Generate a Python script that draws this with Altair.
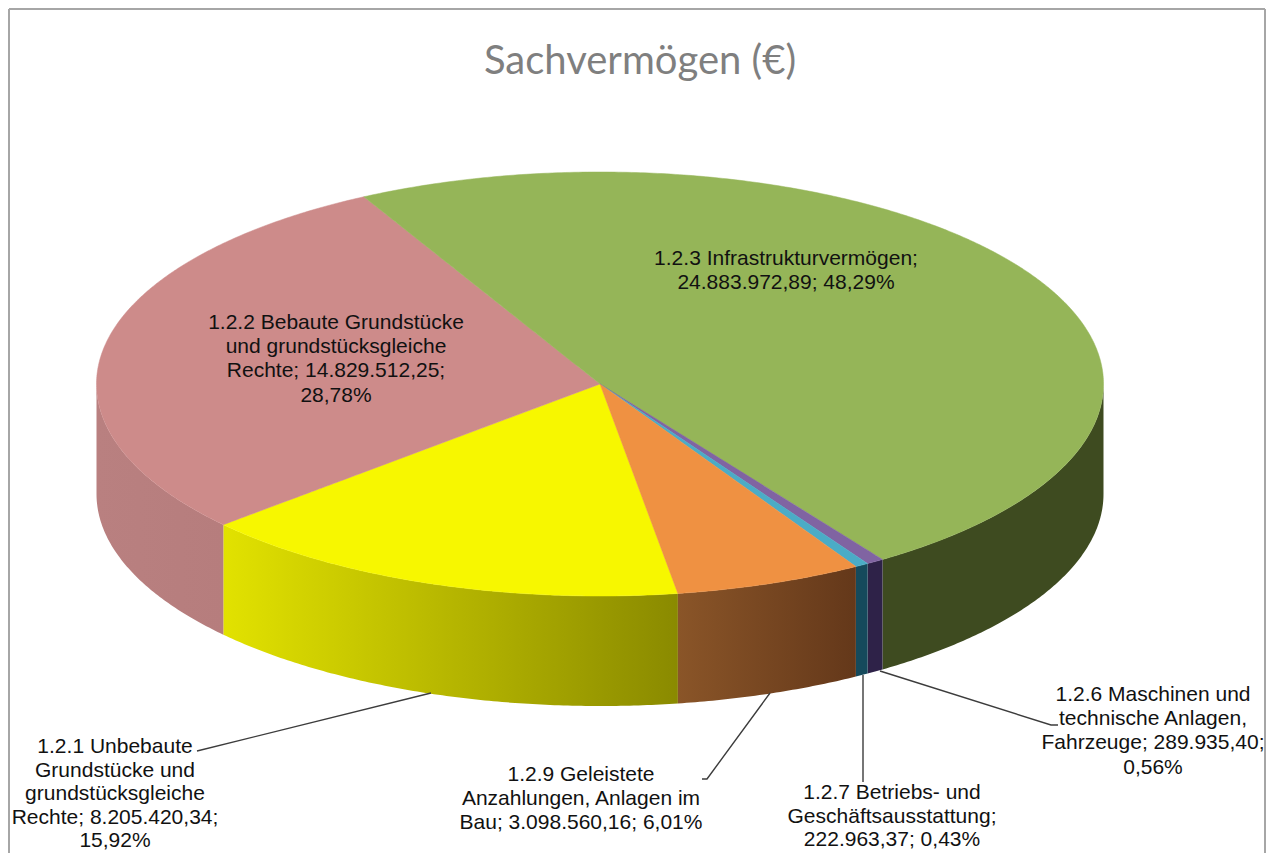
import math
import altair as alt
import pandas as pd

# --- data ---
codes = ["1.2.1", "1.2.2", "1.2.3", "1.2.6", "1.2.7", "1.2.9"]
values = [8205420.34, 14829512.25, 24883972.89, 289935.40, 222963.37, 3098560.16]
label_texts = [
    "1.2.1 Unbebaute\nGrundstücke und\ngrundstücksgleiche\nRechte; 8.205.420,34;\n15,92%",
    "1.2.2 Bebaute Grundstücke\nund grundstücksgleiche\nRechte; 14.829.512,25;\n28,78%",
    "1.2.3 Infrastrukturvermögen;\n24.883.972,89; 48,29%",
    "1.2.6 Maschinen und\ntechnische Anlagen,\nFahrzeuge; 289.935,40;\n0,56%",
    "1.2.7 Betriebs- und\nGeschäftsausstattung;\n222.963,37; 0,43%",
    "1.2.9 Geleistete\nAnzahlungen, Anlagen im\nBau; 3.098.560,16; 6,01%",
]
title_text = "Sachvermögen (€)"

# --- styling and layout ---
top_colors = ["#f7f700", "#cd8b8a", "#95b558", "#8064a2", "#4bacc6", "#ef9142"]
side_stops = [
    ("#e2e200", "#8a8a00"),
    ("#b98080", "#b67d7d"),
    ("#3e4b20", "#3e4b20"),
    ("#2e2248", "#2e2248"),
    ("#154a5c", "#154a5c"),
    ("#8a5528", "#64381a"),
]
label_x = [115, 336, 786, 1153, 892, 581]
label_y = [753, 329, 265, 701, 799, 781]
tight_labels = ["1.2.1", "1.2.7"]  # these sit against the bottom edge
leaders = [
    [(197, 751), (431, 693)],
    [(770, 693), (707, 779), (702, 779)],
    [(863, 675), (863, 782)],
    [(880, 671), (1051, 725), (1058, 725)],
]
CX, CY, RX, RY, DEPTH = 600.0, 384.0, 503.5, 212.0, 110.0
START = 171.1  # clockwise from 12 o'clock, where slice 1.2.1 starts
W, H = 1258, 845

X = lambda f="x": alt.X(f"{f}:Q", scale=alt.Scale(domain=[8, 8 + W], nice=False, zero=False), axis=None)
Y = lambda f="y": alt.Y(f"{f}:Q", scale=alt.Scale(domain=[8 + H, 8], nice=False, zero=False), axis=None)


def rim(deg):
    a = math.radians(deg)
    return CX + RX * math.sin(a), CY - RY * math.cos(a)


def sector_rows(a0, a1):
    """Vertical extents of a convex pie sector, one row per x position."""
    n = max(4, int((a1 - a0) * 2))
    poly = [(CX, CY)] + [rim(a0 + (a1 - a0) * i / n) for i in range(n + 1)]
    xs = sorted({round(p[0], 3) for p in poly})
    rows = []
    for x in xs:
        ys = []
        for i in range(len(poly)):
            (x0, y0), (x1, y1) = poly[i], poly[(i + 1) % len(poly)]
            lo, hi = min(x0, x1), max(x0, x1)
            if lo - 0.002 <= x <= hi + 0.002:
                if abs(x1 - x0) < 1e-6:
                    ys += [y0, y1]
                else:
                    t = min(1, max(0, (x - x0) / (x1 - x0)))
                    ys.append(y0 + t * (y1 - y0))
        rows.append({"x": x, "y": min(ys), "y2": max(ys)})
    return pd.DataFrame(rows)


def side_rows(a0, a1):
    a0, a1 = max(a0, 90.0), min(a1, 270.0)
    if a1 <= a0:
        return None
    n = max(3, int((a1 - a0) * 2))
    rows = []
    for i in range(n + 1):
        x, y = rim(a0 + (a1 - a0) * i / n)
        rows.append({"x": x, "y": y, "y2": y + DEPTH})
    return pd.DataFrame(rows)


total = sum(values)
angles = []
a = START
for v in values:
    b = a + v / total * 360
    angles.append((a, b))
    a = b

layers = []

# frame, open at the bottom of the picture
frame = pd.DataFrame([
    {"x": 9, "x2": 1265, "y": 9, "y2": 9},
    {"x": 9, "x2": 9, "y": 9, "y2": 853},
    {"x": 1265, "x2": 1265, "y": 9, "y2": 853},
])
layers.append(alt.Chart(frame).mark_rule(color="#a6a6a6", strokeWidth=2).encode(
    x=X(), x2="x2:Q", y=Y(), y2="y2:Q"))

# rim (side) of the disc
for (a0, a1), (c0, c1) in zip(angles, side_stops):
    for shift in (0, 360, -360):
        d = side_rows(a0 + shift, a1 + shift)
        if d is None:
            continue
        grad = alt.Gradient(gradient="linear", x1=0, x2=1, y1=0, y2=0,
                            stops=[alt.GradientStop(offset=0, color=c0),
                                   alt.GradientStop(offset=1, color=c1)])
        layers.append(alt.Chart(d).mark_area(color=grad).encode(x=X(), y=Y(), y2="y2:Q"))

# top face of the disc
for (a0, a1), col in zip(angles, top_colors):
    d = sector_rows(a0, a1)
    layers.append(alt.Chart(d).mark_area(color=col, stroke=col, strokeWidth=0.5).encode(
        x=X(), y=Y(), y2="y2:Q"))

# leader lines
rows = []
for i, pts in enumerate(leaders):
    for j, (x, y) in enumerate(pts):
        rows.append({"id": i, "o": j, "x": x, "y": y})
layers.append(alt.Chart(pd.DataFrame(rows)).mark_line(color="#3c3c3c", strokeWidth=1.4).encode(
    x=X(), y=Y(), detail="id:N", order="o:Q"))

# data labels
lab = pd.DataFrame({"code": codes, "t": label_texts, "x": label_x, "y": label_y})
for is_tight, line_height in ((True, 23.5), (False, 24.2)):
    part = lab[lab["code"].isin(tight_labels) == is_tight]
    layers.append(alt.Chart(part).mark_text(
        font="Liberation Sans", fontSize=21, color="#111111", align="center",
        baseline="alphabetic", lineBreak="\n", lineHeight=line_height,
    ).encode(x=X(), y=Y(), text="t:N"))

# chart title
layers.append(alt.Chart(pd.DataFrame({"t": [title_text], "x": [640], "y": [74]})).mark_text(
    font="Lato", fontSize=40, color="#7f7f7f", align="center", baseline="alphabetic",
).encode(x=X(), y=Y(), text="t:N"))

chart = alt.layer(*layers).properties(
    width=W, height=H, padding=0, autosize=alt.AutoSizeParams(type="none"), background="white",
).configure_view(stroke=None)

chart.save("out.html", embed_options={"renderer": "svg", "actions": False})
